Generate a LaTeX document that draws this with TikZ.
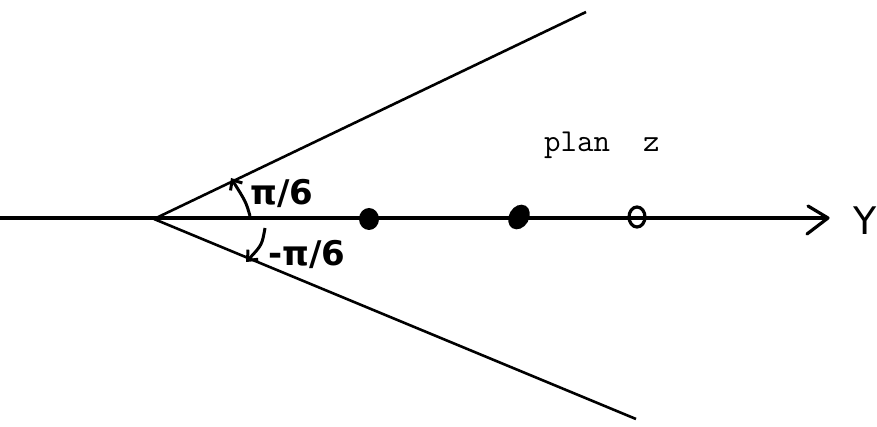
\documentclass[tikz,border=0pt]{standalone}
\usepackage{fontspec}
\newfontfamily\handfont{DejaVu Sans}
\usetikzlibrary{arrows.meta}
\begin{document}
\begin{tikzpicture}[x=1pt,y=-1pt,
  axisline/.style={line width=3.2pt},
  rayline/.style={line width=2.6pt},
  handlabel/.style={font=\handfont\bfseries\fontsize{34}{34}\selectfont, inner sep=0pt},
  anglearrow/.style={line width=3pt, -{Straight Barb[length=8pt,width=14pt,line width=3pt]}}]
\useasboundingbox (0,0) rectangle (877,427);
\coordinate (start) at (0,218);
\coordinate (vertex) at (154,219);
\coordinate (tip) at (828,218);
\coordinate (uend) at (586,12);
\coordinate (lend) at (636,419);
\draw[axisline] (start) -- (tip);
\draw[axisline, line cap=round, line join=round] (808,206) -- (tip) -- (807,234);
\draw[rayline] (vertex) -- (uend);
\draw[rayline] (vertex) -- (lend);
\fill (369,219) ellipse [x radius=10, y radius=11];
\fill[rotate around={-30:(519,217)}] (519,217) ellipse [x radius=10, y radius=13];
\draw[line width=3.2pt] (637,217) ellipse [x radius=8, y radius=10];
\coordinate (a1s) at (250,216);
\coordinate (a1e) at (231,178);
\draw[anglearrow] (a1s) .. controls (246,202) .. (a1e);
\coordinate (a2s) at (265,228);
\coordinate (a2e) at (246,262);
\draw[anglearrow] (a2s) .. controls (262,245) .. (a2e);
\node[handlabel, anchor=west] (p1) at (250,193) {π/6};
\node[handlabel, anchor=west] (p2) at (268,254) {-π/6};
\node[font=\ttfamily\fontsize{32}{32}\selectfont, anchor=base west, inner sep=0pt] (plan) at (544,152) {plan\ \ z};
\node[font=\handfont\fontsize{38}{38}\selectfont, anchor=east, inner sep=0pt] (ylab) at (877,221) {Y};
\end{tikzpicture}
\end{document}
